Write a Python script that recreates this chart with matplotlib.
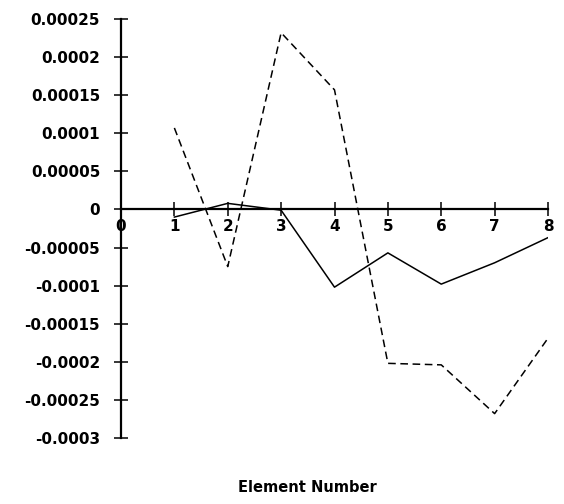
import matplotlib
matplotlib.use("Agg")
import matplotlib.pyplot as plt
from matplotlib.ticker import FixedLocator

# values
elements = [1, 2, 3, 4, 5, 6, 7, 8]
solid_vals = [-0.00001, 0.000008, -0.000001, -0.000102, -0.000057, -0.000098, -0.00007, -0.000037]
dashed_vals = [0.000107, -0.000075, 0.000232, 0.000157, -0.000202, -0.000204, -0.000268, -0.000169]

x_ticks = [0, 1, 2, 3, 4, 5, 6, 7, 8]
y_ticks = [0.00025, 0.0002, 0.00015, 0.0001, 0.00005, 0,
           -0.00005, -0.0001, -0.00015, -0.0002, -0.00025, -0.0003]
y_labels = ["0.00025", "0.0002", "0.00015", "0.0001", "0.00005", "0",
            "-0.00005", "-0.0001", "-0.00015", "-0.0002", "-0.00025", "-0.0003"]

plt.rcParams['font.family'] = ['DejaVu Sans']
plt.rcParams['font.weight'] = 'bold'

fig = plt.figure(figsize=(5.64, 5.04), dpi=100)
ax = fig.add_axes([121 / 564, 1 - 438 / 504, (548 - 121) / 564, (438 - 19) / 504])

ax.plot(elements, solid_vals, color='black', linewidth=1.1)
ax.plot(elements, dashed_vals, color='black', linewidth=1.1, linestyle=(0, (5, 3)))

ax.set_xlim(0, 8)
ax.set_ylim(-0.0003, 0.00025)

# axes: y at left, x crossing at zero
ax.spines['top'].set_visible(False)
ax.spines['right'].set_visible(False)
ax.spines['bottom'].set_position(('data', 0))
ax.spines['left'].set_linewidth(1.6)
ax.spines['bottom'].set_linewidth(1.6)

ax.xaxis.set_major_locator(FixedLocator(x_ticks))
ax.set_xticklabels([str(t) for t in x_ticks])
ax.yaxis.set_major_locator(FixedLocator(y_ticks))
ax.set_yticklabels(y_labels)

ax.tick_params(axis='x', direction='inout', length=10, width=1.1, pad=2, labelsize=11)
ax.tick_params(axis='y', direction='inout', length=10, width=1.1, pad=10, labelsize=11)

fig.text(307 / 564, 1 - 488 / 504, "Element Number", ha='center', va='center',
         fontsize=10.5, fontweight='bold')

fig.savefig("out.png", dpi=100, facecolor='white')
